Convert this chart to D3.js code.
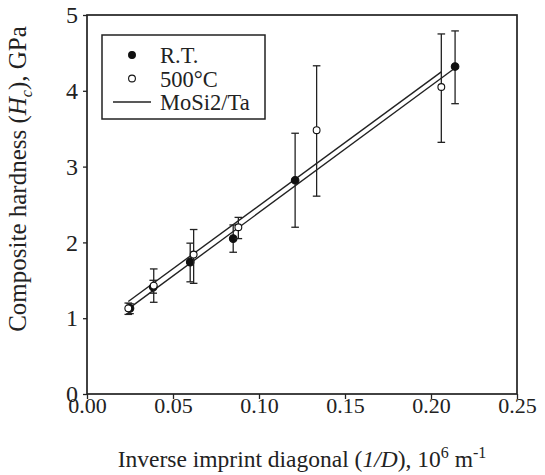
<!DOCTYPE html>
<html>
<head>
<meta charset="utf-8">
<script src="https://cdn.jsdelivr.net/npm/d3@7"></script>
<style>
  body { margin: 0; background: #fff; }
  svg text { font-family: "Liberation Serif", "Times New Roman", serif; fill: #222; }
</style>
</head>
<body>
<div id="chart"></div>
<script>
var margin = {top: 15, right: 28, bottom: 81, left: 87},
    width = 545 - margin.left - margin.right,
    height = 475 - margin.top - margin.bottom;

// R.T. measurements (filled)
var rtX  = [0.025, 0.0385, 0.060, 0.085, 0.121, 0.214];
var rtY  = [1.13, 1.41, 1.74, 2.05, 2.82, 4.32];
var rtLo = [1.06, 1.33, 1.48, 1.87, 2.20, 3.83];
var rtHi = [1.19, 1.50, 1.99, 2.23, 3.44, 4.79];

// 500°C measurements (open)
var hotX  = [0.024, 0.0388, 0.062, 0.088, 0.1335, 0.206];
var hotY  = [1.13, 1.43, 1.84, 2.20, 3.48, 4.05];
var hotLo = [1.05, 1.21, 1.46, 2.05, 2.61, 3.32];
var hotHi = [1.20, 1.65, 2.17, 2.33, 4.33, 4.75];

// MoSi2/Ta fit lines (end points)
var fitRtX = [0.025, 0.214], fitRtY = [1.14, 4.30];
var fitHotX = [0.024, 0.206], fitHotY = [1.22, 4.25];

var xTicks = [0, 0.05, 0.10, 0.15, 0.20, 0.25];
var yTicks = [0, 1, 2, 3, 4, 5];
var legendLabels = ["R.T.", "500°C", "MoSi2/Ta"];

var svg = d3.select("#chart")
    .append("svg")
    .attr("width", 545)
    .attr("height", 475)
    .append("g")
    .attr("transform", "translate(" + margin.left + "," + margin.top + ")");

var x = d3.scaleLinear().domain([0, 0.25]).range([0, width]);
var y = d3.scaleLinear().domain([0, 5]).range([height, 0]);

// frame
svg.append("rect")
    .attr("width", width)
    .attr("height", height)
    .attr("fill", "none")
    .attr("stroke", "#222")
    .attr("stroke-width", 1.7);

// x axis
var xAxis = svg.append("g")
    .attr("transform", "translate(0," + height + ")")
    .call(d3.axisBottom(x).tickValues(xTicks).tickFormat(d3.format(".2f")).tickSizeOuter(0).tickSize(5).tickPadding(-2));
xAxis.select(".domain").remove();
xAxis.selectAll("line").attr("stroke", "#222").attr("stroke-width", 1.3);
xAxis.selectAll("text").style("font-size", "22px").style("font-family", "Liberation Serif").attr("fill", "#222");

// y axis
var yAxis = svg.append("g")
    .call(d3.axisLeft(y).tickValues(yTicks).tickFormat(d3.format("d")).tickSizeOuter(0).tickSize(4).tickPadding(5));
yAxis.select(".domain").remove();
yAxis.selectAll("line").attr("stroke", "#222").attr("stroke-width", 1.3);
yAxis.selectAll("text").style("font-size", "24px").style("font-family", "Liberation Serif").attr("fill", "#222");

// fit lines
var line = d3.line().x(function(d) { return x(d[0]); }).y(function(d) { return y(d[1]); });
[[fitRtX, fitRtY], [fitHotX, fitHotY]].forEach(function(f) {
    svg.append("path")
        .attr("d", line(d3.zip(f[0], f[1])))
        .attr("fill", "none")
        .attr("stroke", "#222")
        .attr("stroke-width", 1.4);
});

// error bars + points
function drawSeries(xs, ys, lo, hi, filled) {
    var cap = 3.8;
    var g = svg.append("g");
    xs.forEach(function(xv, i) {
        var px = x(xv);
        g.append("line").attr("x1", px).attr("x2", px).attr("y1", y(lo[i])).attr("y2", y(hi[i]))
            .attr("stroke", "#222").attr("stroke-width", 1.3);
        [lo[i], hi[i]].forEach(function(v) {
            g.append("line").attr("x1", px - cap).attr("x2", px + cap).attr("y1", y(v)).attr("y2", y(v))
                .attr("stroke", "#222").attr("stroke-width", 1.3);
        });
    });
    g.selectAll("circle")
        .data(d3.zip(xs, ys))
        .enter()
        .append("circle")
        .attr("cx", function(d) { return x(d[0]); })
        .attr("cy", function(d) { return y(d[1]); })
        .attr("r", filled ? 3.8 : 3.4)
        .attr("fill", filled ? "#111" : "#fff")
        .attr("stroke", "#111")
        .attr("stroke-width", 1.1);
}
drawSeries(rtX, rtY, rtLo, rtHi, true);
drawSeries(hotX, hotY, hotLo, hotHi, false);

// legend
var lg = svg.append("g").attr("transform", "translate(15,20)");
lg.append("rect")
    .attr("width", 163)
    .attr("height", 84)
    .attr("fill", "#fff")
    .attr("stroke", "#222")
    .attr("stroke-width", 1.5);
legendLabels.forEach(function(lbl, i) {
    var cy = 20 + i * 23.5;
    if (i < 2) {
        lg.append("circle").attr("cx", 30).attr("cy", cy).attr("r", 3.4)
            .attr("fill", i === 0 ? "#111" : "#fff").attr("stroke", "#111").attr("stroke-width", 1.1);
    } else {
        lg.append("line").attr("x1", 11).attr("x2", 49).attr("y1", cy).attr("y2", cy)
            .attr("stroke", "#222").attr("stroke-width", 1.4);
    }
    lg.append("text").attr("x", 58).attr("y", cy + 8).style("font-size", "22.5px").text(lbl);
});

// x title
var xt = svg.append("text")
    .attr("x", width / 2)
    .attr("y", height + 73)
    .attr("text-anchor", "middle")
    .style("font-size", "23.5px");
xt.append("tspan").text("Inverse imprint diagonal (");
xt.append("tspan").style("font-style", "italic").text("1/D");
xt.append("tspan").text("), 10");
xt.append("tspan").attr("dy", -9).style("font-size", "16px").text("6");
xt.append("tspan").attr("dy", 9).text(" m");
xt.append("tspan").attr("dy", -9).style("font-size", "16px").text("-1");

// y title
var yt = svg.append("text")
    .attr("transform", "translate(-61," + (164) + ") rotate(-90)")
    .attr("text-anchor", "middle")
    .style("font-size", "25px");
yt.append("tspan").text("Composite hardness (");
yt.append("tspan").style("font-style", "italic").text("H");
yt.append("tspan").attr("dy", 6).style("font-style", "italic").style("font-size", "16px").text("c");
yt.append("tspan").attr("dy", -6).text("), GPa");
</script>
</body>
</html>
